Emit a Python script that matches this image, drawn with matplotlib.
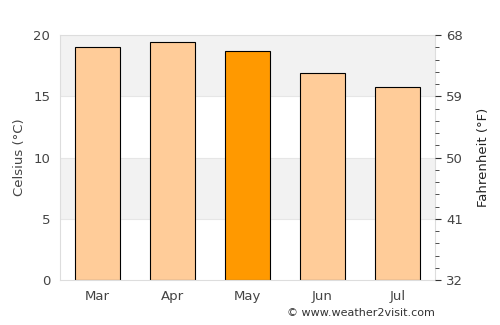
import matplotlib
matplotlib.use("Agg")
import matplotlib.pyplot as plt
import numpy as np

months = ["Mar", "Apr", "May", "Jun", "Jul"]
celsius = [19.0, 19.4, 18.7, 16.9, 15.8]
highlight = "May"
c_ticks = [0, 5, 10, 15, 20]
f_labels = ["32", "41", "50", "59", "68"]

LIGHT = "#ffcc99"
DARK = "#ff9900"
TXT = "#444444"

fig = plt.figure(figsize=(5.0, 3.25), dpi=100)
ax = fig.add_axes([0.12, 0.138, 0.75, 0.754])

# bandes de fond alternées
for i, lo in enumerate(c_ticks[:-1]):
    if i % 2 == 1:
        ax.axhspan(lo, lo + 5, color="#f2f2f2", zorder=0, lw=0)
for y in c_ticks[1:-1]:
    ax.axhline(y, color="#e6e6e6", lw=0.8, zorder=0.5)

x = np.arange(len(months))
colors = [DARK if m == highlight else LIGHT for m in months]
ax.bar(x, celsius, width=0.6, color=colors, edgecolor="black", linewidth=0.8, zorder=2)

ax.set_xlim(-0.5, len(months) - 0.5)
ax.set_ylim(0, 20)
ax.set_xticks(x)
ax.set_xticklabels(months)
ax.set_yticks(c_ticks)
ax.tick_params(axis="both", length=0, colors=TXT, labelsize=9.5, pad=7)
ax.set_ylabel("Celsius (°C)", color=TXT, fontsize=9.5, labelpad=5)
for s in ax.spines.values():
    s.set_color("#dddddd")

ax2 = ax.twinx()
ax2.set_ylim(0, 20)
ax2.set_yticks(c_ticks)
ax2.set_yticklabels(f_labels)
ax2.set_yticks(np.arange(0, 21, 1), minor=True)
ax2.tick_params(axis="y", which="major", length=4, color="#333333", colors=TXT, labelsize=9.5, pad=4)
ax2.tick_params(axis="y", which="minor", length=3, color="#333333")
ax2.set_ylabel("Fahrenheit (°F)", color="#222222", fontsize=9.5, labelpad=10)
for s in ax2.spines.values():
    s.set_visible(False)

fig.text(0.87, 0.02, "© www.weather2visit.com", ha="right", va="bottom", fontsize=8, color="#333333")

fig.savefig("out.png", dpi=100)
